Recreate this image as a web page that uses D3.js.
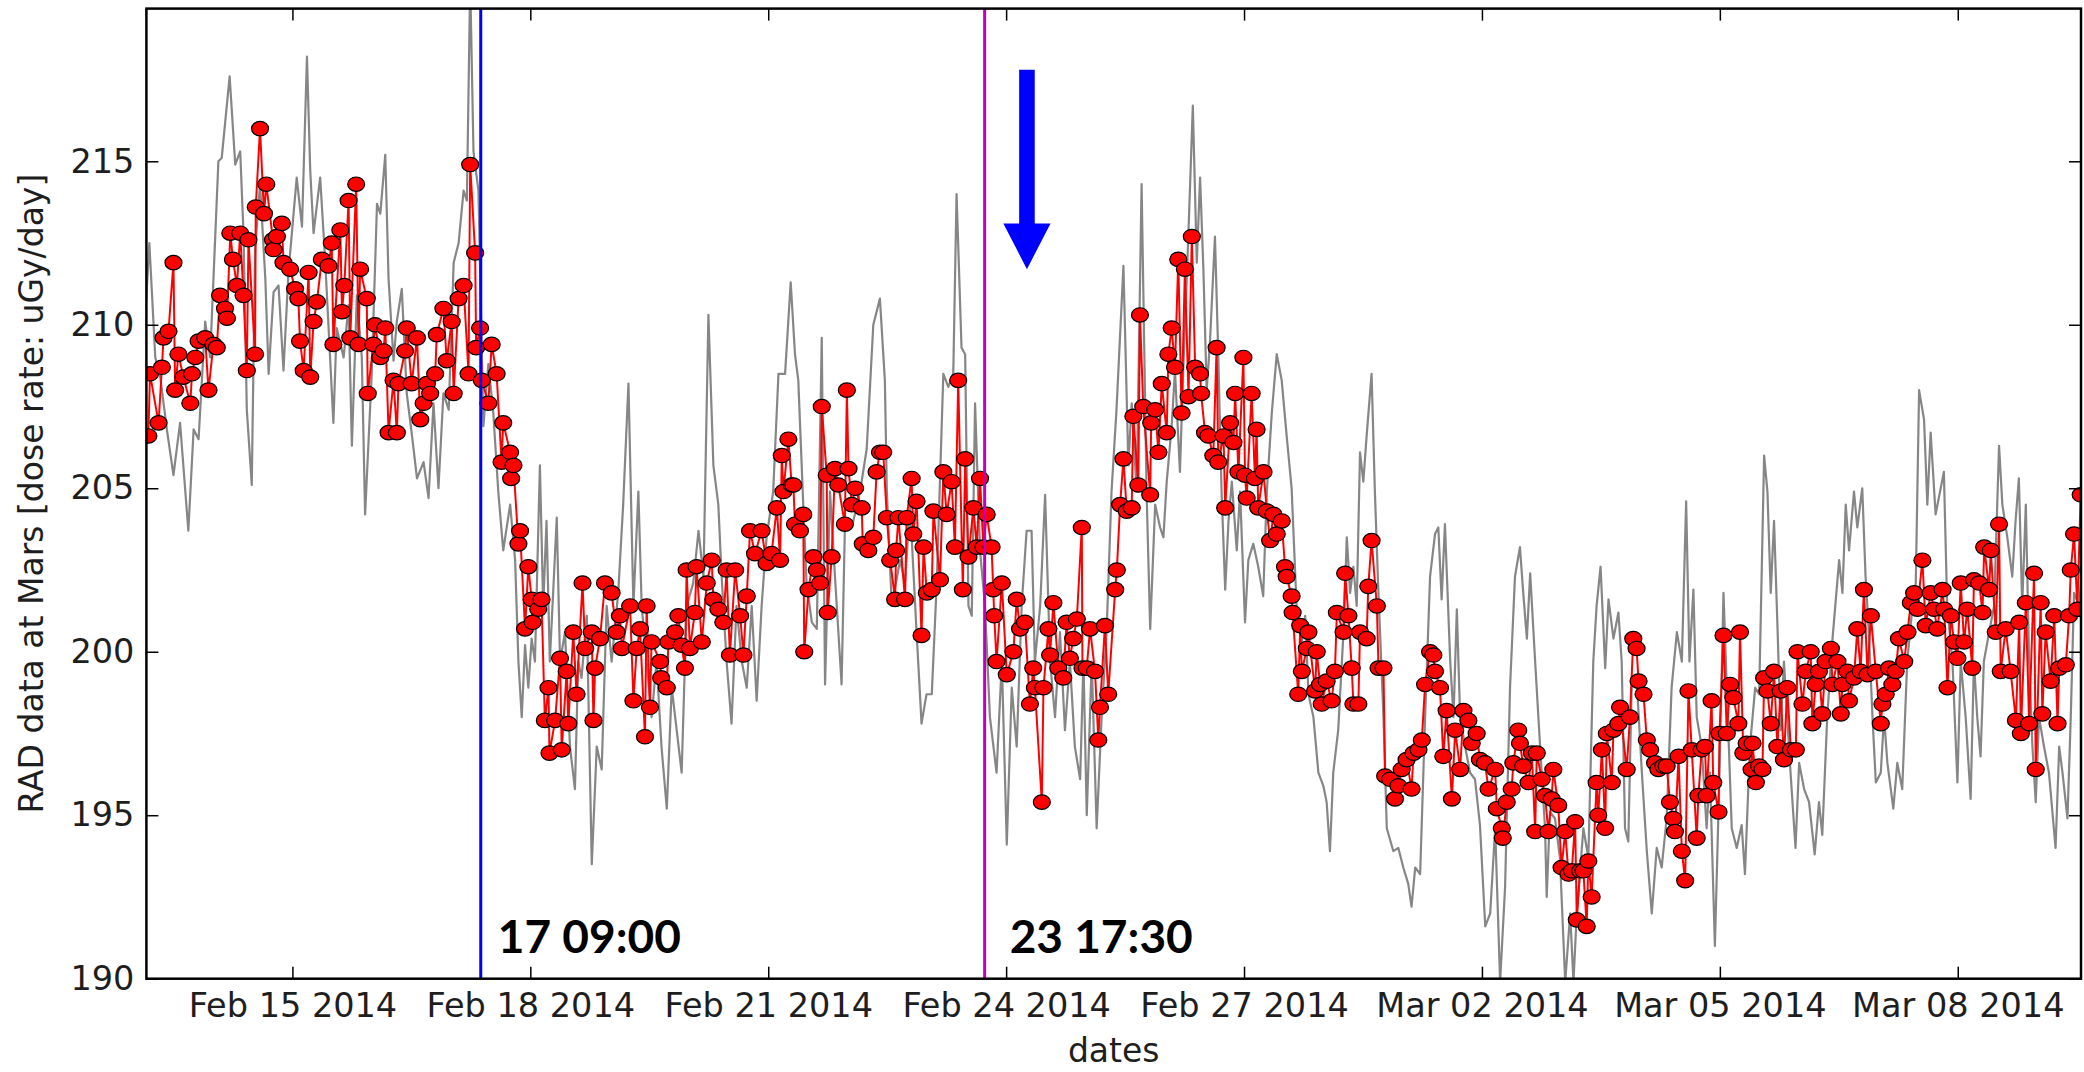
<!DOCTYPE html>
<html>
<head>
<meta charset="utf-8">
<script src="https://cdn.jsdelivr.net/npm/d3@7"></script>
<style>
  body { margin: 0; background: #fff; }
  svg text { font-family: "DejaVu Sans", sans-serif; }
</style>
</head>
<body>
<div id="rad-chart"></div>
<script>
const DIV_CONTAINER_ID = "#rad-chart";
const WIDTH = 2084;
const HEIGHT = 1072;
const PLOT = { left: 146.4, right: 2081, top: 8.6, bottom: 978.7 };

// hours counted from 2014-02-13 00:00 UTC
const START_HOUR = 3.81;
const END_HOUR = 589.3;
const tickDays = ["2014-02-15", "2014-02-18", "2014-02-21", "2014-02-24",
  "2014-02-27", "2014-03-02", "2014-03-05", "2014-03-08"];
const yTicks = [190, 195, 200, 205, 210, 215];
const yDomain = [190, 219.67];

const eventHours = [105, 257.5];          // 17 09:00 and 23 17:30
const eventLabels = ["17 09:00", "23 17:30"];
const arrowHour = 270.3;
const arrowValues = [217.8, 213.1, 211.7]; // tail, head base, tip

// grey series: [hour, dose rate]
const grayPoints = [
  [3.6,210.5],[4.7,212.5],[6.5,209.0],[8.0,208.4],[10.0,206.8],[12.0,205.4],[14.0,207.0],[16.5,203.7],[18.1,206.8],[19.6,206.5],
  [21.6,210.1],[23.1,209.0],[25.6,215.0],[26.6,215.1],[29.0,217.6],[30.7,214.9],[32.2,215.3],[33.2,212.8],[34.2,207.4],[35.7,205.1],
  [36.7,212.3],[38.2,214.3],[39.8,211.4],[40.8,208.5],[42.3,211.0],[43.8,211.2],[45.3,208.6],[46.8,211.6],[49.3,214.5],[50.9,213.0],
  [52.4,218.2],[53.4,214.7],[54.4,212.8],[56.4,214.5],[57.9,212.0],[59.4,209.0],[60.4,207.0],[61.4,209.9],[63.5,209.0],[65.0,210.6],
  [66.0,206.3],[67.5,210.9],[69.0,209.0],[70.0,204.2],[72.0,208.5],[73.6,213.7],[74.6,213.4],[76.1,215.2],[77.1,211.4],[78.6,208.9],
  [79.6,210.1],[81.1,211.1],[82.6,207.9],[84.2,206.6],[85.7,205.3],[87.7,205.8],[89.2,204.7],[90.7,207.6],[92.2,205.0],[93.7,207.9],
  [95.3,207.4],[96.8,211.9],[98.3,212.5],[99.8,214.1],[100.8,213.8],[101.8,220.5],[102.8,215.3],[104.3,214.1],[105.8,206.9],[107.3,208.8],
  [108.8,207.3],[110.3,204.9],[111.8,203.1],[113.9,204.5],[115.4,202.8],[116.4,199.7],[117.4,198.0],[118.4,200.2],[119.4,198.9],[120.4,200.4],
  [121.4,199.7],[122.9,205.7],[123.9,201.4],[124.9,204.0],[125.9,199.7],[128.0,204.1],[129.0,199.7],[130.5,200.6],[132.0,197.1],[133.5,195.8],
  [134.5,199.7],[135.5,199.2],[137.1,201.1],[138.6,193.5],[140.1,197.1],[141.6,196.4],[143.1,201.4],[144.6,199.7],[146.6,201.8],[148.1,204.5],
  [149.7,208.2],[151.2,201.4],[152.7,204.9],[153.7,201.4],[155.2,199.7],[156.7,198.0],[158.2,199.7],[159.7,197.1],[161.3,195.2],[162.8,198.9],
  [164.3,197.6],[165.8,196.3],[167.3,201.4],[169.3,202.1],[170.9,203.7],[172.4,202.3],[173.9,210.3],[175.4,205.7],[176.9,204.5],[177.9,202.3],
  [179.4,199.7],[180.9,197.8],[182.4,201.4],[184.0,199.7],[185.5,198.9],[187.0,201.4],[188.5,198.5],[190.0,201.4],[191.5,203.5],[193.5,204.9],
  [195.1,208.5],[197.1,208.5],[198.8,211.3],[200.1,209.1],[201.1,208.3],[202.6,204.5],[203.6,202.1],[205.2,200.9],[206.7,200.7],[208.2,209.6],
  [209.2,199.0],[210.7,204.9],[212.2,202.3],[214.2,199.0],[215.2,203.8],[217.3,203.8],[219.8,204.9],[221.8,206.2],[223.8,210.0],[225.8,210.8],
  [227.3,208.3],[227.9,204.9],[229.4,201.4],[231.9,202.8],[233.4,202.1],[234.9,204.5],[236.9,200.6],[238.4,197.8],[239.9,198.7],[241.5,198.7],
  [243.0,202.1],[245.0,208.5],[246.5,208.1],[248.0,208.5],[249.0,214.0],[250.5,209.3],[251.6,209.1],[252.6,201.4],[253.6,201.1],[254.6,207.6],
  [256.1,203.1],[257.6,201.4],[259.1,198.0],[261.1,196.3],[262.7,199.7],[264.2,194.1],[265.7,198.9],[267.2,197.1],[268.7,201.4],[270.2,203.7],
  [271.7,203.7],[272.7,199.7],[274.3,201.4],[275.8,204.8],[277.3,199.7],[278.8,198.0],[280.3,200.6],[281.8,197.6],[283.3,199.7],[284.8,197.1],
  [286.4,196.1],[287.4,199.7],[288.4,195.0],[289.9,199.7],[291.4,194.6],[292.9,198.0],[294.4,200.6],[295.9,204.9],[297.4,207.4],[299.5,211.8],
  [301.0,205.7],[302.0,207.6],[303.5,204.9],[305.0,214.3],[306.5,204.9],[307.6,200.7],[309.1,204.5],[310.6,203.8],[311.6,203.5],[312.6,205.2],
  [314.1,206.9],[315.1,208.6],[316.6,205.5],[317.6,208.6],[319.1,212.6],[320.5,216.7],[321.7,211.9],[322.7,214.5],[323.7,211.7],[324.7,208.0],
  [325.7,209.5],[327.2,212.7],[328.2,209.1],[329.2,204.9],[330.3,201.9],[331.3,204.0],[332.3,205.2],[333.8,203.1],[334.8,204.9],[336.3,200.9],
  [337.3,202.8],[338.8,203.3],[340.3,202.6],[341.8,201.7],[342.9,204.9],[344.4,207.3],[345.9,209.1],[347.4,208.3],[348.9,206.6],[350.4,205.0],
  [351.9,201.4],[353.4,200.2],[354.5,201.1],[355.5,198.7],[357.0,198.0],[358.5,196.3],[360.0,195.9],[361.0,195.4],[362.0,193.9],[363.0,196.3],
  [364.5,197.6],[366.1,200.6],[367.1,203.5],[368.1,201.8],[369.1,202.6],[370.1,201.4],[371.1,206.1],[372.1,205.2],[373.1,206.6],[374.6,208.5],
  [375.6,204.9],[376.6,202.0],[378.2,198.0],[379.2,194.6],[381.2,193.9],[382.7,194.0],[384.2,193.4],[385.7,192.9],[386.7,192.2],[387.8,193.4],
  [389.3,193.2],[390.8,198.0],[392.3,202.3],[393.8,203.6],[394.8,203.8],[395.8,201.6],[396.8,203.9],[398.4,199.7],[399.4,198.0],[400.4,201.3],
  [401.4,198.0],[402.9,197.1],[404.4,196.3],[405.9,196.1],[407.4,194.7],[409.0,191.6],[410.5,192.0],[412.0,194.6],[413.5,189.9],[415.0,192.8],
  [416.5,198.9],[418.0,202.3],[419.5,203.2],[420.5,201.8],[421.6,200.4],[422.6,202.4],[424.1,199.7],[425.6,197.1],[427.1,194.6],[427.6,192.5],
  [428.6,195.1],[430.1,194.9],[431.6,193.7],[433.2,189.9],[434.7,192.0],[435.7,189.9],[436.7,192.0],[438.7,194.6],[440.2,193.7],[441.7,199.7],
  [442.7,201.4],[443.9,202.6],[445.3,199.5],[446.3,201.6],[447.8,200.4],[449.3,201.2],[450.3,199.7],[451.3,194.6],[452.3,194.2],[453.3,198.9],
  [454.8,199.2],[456.4,196.3],[457.9,193.9],[459.4,192.0],[460.9,194.0],[462.4,193.4],[463.9,194.9],[465.4,198.9],[467.0,200.6],[468.5,199.7],
  [469.8,204.6],[470.8,199.7],[472.0,201.9],[473.0,198.0],[474.5,197.1],[476.0,194.6],[477.0,196.3],[478.5,191.0],[479.9,196.3],[481.1,201.8],
  [482.1,198.9],[483.6,194.6],[485.1,194.0],[486.6,194.7],[487.6,193.2],[489.1,197.1],[490.7,198.9],[491.9,198.7],[493.4,206.0],[494.4,204.9],
  [495.4,201.8],[496.4,204.0],[497.4,200.9],[498.4,197.6],[499.4,199.7],[500.4,198.0],[501.4,196.3],[502.9,194.0],[504.0,196.6],[505.5,195.8],
  [507.0,195.4],[508.7,193.8],[510.0,195.4],[511.0,194.4],[512.5,198.0],[514.1,200.4],[516.1,202.8],[517.1,201.8],[518.1,204.5],[519.1,203.1],
  [520.6,204.9],[521.6,203.8],[523.1,205.0],[524.1,202.3],[525.1,200.6],[526.2,198.0],[527.2,196.0],[528.7,196.3],[529.7,198.0],[530.7,196.6],
  [532.5,195.2],[533.7,196.6],[535.2,195.8],[536.7,199.7],[538.3,201.4],[539.3,202.1],[540.3,208.0],[541.8,207.1],[542.8,204.5],[543.8,206.7],
  [545.3,204.2],[547.8,205.5],[548.8,201.4],[550.4,199.7],[551.9,196.0],[552.9,199.7],[554.4,198.0],[555.9,195.5],[556.9,199.7],[557.9,198.0],
  [558.9,196.8],[559.9,199.7],[561.5,200.6],[563.0,201.4],[564.5,206.3],[565.5,204.5],[567.0,203.5],[568.5,202.3],[569.5,204.0],[570.5,205.3],
  [571.5,201.4],[572.6,204.5],[573.6,199.7],[574.6,197.1],[575.6,195.4],[576.6,198.0],[578.1,197.1],[579.6,196.3],[581.6,194.0],[582.7,197.1],
  [583.7,196.3],[585.2,194.9],[586.2,198.0],[587.2,201.8],[588.7,201.4],[589.7,202.6]
];

// red series with markers: [hour, dose rate]
const redPoints = [
  [4.4,206.6],[4.9,208.5],[7.5,207.0],[8.5,208.7],[9.0,209.6],[10.5,209.8],[12.0,211.9],[12.5,208.0],[13.5,209.1],[15.0,208.4],
  [17.1,207.6],[17.6,208.5],[18.6,209.0],[19.6,209.5],[21.6,209.6],[22.6,208.0],[24.1,209.4],[25.1,209.3],[26.1,210.9],[27.6,210.5],
  [28.2,210.2],[29.2,212.8],[30.0,212.0],[31.2,211.2],[32.2,212.8],[33.2,210.9],[34.2,208.6],[34.7,212.6],[36.7,209.1],[36.9,213.6],
  [38.2,216.0],[39.4,213.4],[40.1,214.3],[42.1,212.6],[42.3,212.3],[43.3,212.7],[44.8,213.1],[45.3,211.9],[47.3,211.7],[48.8,211.1],
  [49.8,210.8],[50.3,209.5],[51.4,208.6],[52.9,211.6],[53.4,208.4],[54.4,210.1],[55.4,210.7],[56.9,212.0],[58.9,211.8],[59.9,212.5],
  [60.4,209.4],[62.5,212.9],[63.0,210.4],[63.7,211.2],[65.0,213.8],[65.5,209.6],[67.3,214.3],[68.0,209.4],[68.5,211.7],[70.5,210.8],
  [70.8,207.9],[72.5,209.4],[73.0,210.0],[74.6,209.0],[75.6,209.2],[76.1,209.9],[77.1,206.7],[78.6,208.3],[79.6,206.7],[80.1,208.2],
  [82.1,209.2],[82.6,209.9],[84.1,208.2],[85.7,209.6],[86.7,207.1],[87.7,207.6],[88.7,208.2],[89.7,207.9],[91.2,208.5],[91.7,209.7],
  [93.7,210.5],[94.7,208.9],[96.2,210.1],[96.8,207.9],[98.3,210.8],[99.8,211.2],[101.3,208.5],[101.8,214.9],
  [103.3,212.2],[103.6,209.3],[104.8,209.9],[105.3,208.3],[107.3,207.6],[108.3,209.4],[109.8,208.5],[111.3,205.8],[111.8,207.0],[113.9,206.1],
  [114.2,205.3],[114.9,205.7],[116.4,203.3],[116.9,203.7],[118.4,200.7],[119.4,202.6],[120.4,201.6],[120.7,200.9],[122.4,201.3],[123.4,201.6],
  [124.4,197.9],[125.5,198.9],[125.8,196.9],[127.5,197.9],[129.0,199.8],[129.5,197.0],[131.0,199.4],[131.5,197.8],[133.0,200.6],[134.0,198.7],
  [135.8,202.1],[136.6,200.1],[138.6,200.6],[139.1,197.9],[139.6,199.5],[141.1,200.4],[142.6,202.1],[144.6,201.8],[146.1,200.6],[147.1,201.1],
  [147.7,200.1],[150.2,201.4],[151.2,198.5],[152.2,200.1],[153.2,200.7],[154.7,197.4],[155.2,201.4],[156.2,198.3],[156.7,200.3],[159.3,199.7],
  [159.6,199.2],[161.3,198.9],[161.8,200.3],[163.8,200.6],[164.8,201.1],[165.8,200.2],[166.8,199.5],[167.3,202.5],[168.3,200.1],[169.8,201.2],
  [170.3,202.6],[171.9,200.3],[173.4,202.1],[174.9,202.8],[175.4,201.6],[176.9,201.3],[178.4,200.9],[179.4,202.5],[180.4,199.9],[182.0,202.5],
  [183.5,201.1],[184.5,199.9],[185.5,201.7],[186.5,203.7],[188.0,203.0],[190.0,203.7],[191.5,202.7],[193.0,203.0],[194.6,204.4],[195.6,202.8],
  [196.1,206.0],[196.6,204.9],[198.1,206.5],[199.1,205.1],
  [199.6,205.1],[200.1,203.9],[201.6,203.7],[202.6,204.2],[202.9,200.0],[204.2,201.9],[205.7,202.9],[206.7,202.5],[207.7,202.1],[208.2,207.5],
  [209.7,205.4],[210.0,201.2],[211.2,202.9],[212.2,205.6],[213.2,205.1],[215.2,203.9],[215.8,208.0],[216.3,205.6],[217.3,204.5],[218.3,205.0],
  [220.3,204.4],[220.6,203.3],[222.3,203.1],[223.8,203.5],[224.8,205.5],[225.8,206.1],[226.8,206.1],[227.9,204.1],[228.9,202.8],[230.4,201.6],
  [230.7,203.1],[231.4,204.1],[233.4,201.6],[233.9,204.1],[235.4,205.3],[235.9,203.6],[236.9,204.6],[238.4,200.5],[239.0,203.2],[240.0,201.8],
  [241.5,201.9],[242.0,204.3],[244.0,202.2],[245.0,205.5],[246.0,204.2],[247.5,205.2],[248.5,203.2],[249.5,208.3],[250.9,201.9],[251.6,205.9],
  [252.6,202.9],[254.1,204.4],[255.1,203.2],[256.1,205.3],[257.1,203.2],[258.1,204.2],[259.6,203.2],[260.1,201.9],[260.4,201.1],[261.1,199.7],
  [262.7,202.1],[264.2,199.3],[266.2,200.0],[267.2,201.6],[268.2,200.7],[269.7,200.9],[271.2,198.4],[272.2,199.5],[272.7,198.9],[274.8,195.4],
  [275.3,198.9],[276.8,200.7],[277.3,199.9],[278.3,201.5],[279.8,199.5],[281.3,199.2],[282.3,200.9],[283.3,199.8],[284.3,200.4],[285.4,201.0],
  [286.9,203.8],[287.1,199.5],[288.4,199.5],[289.4,200.7],[290.9,199.4],[291.9,197.3],[292.4,198.3],[293.9,200.8],[294.9,198.7],
  [297.0,201.9],[297.5,202.5],[298.5,204.5],[299.5,205.9],[300.5,204.3],[302.0,204.4],[302.5,207.2],[304.0,205.1],[304.5,210.3],[305.5,207.5],
  [307.6,204.8],[307.9,207.0],[309.1,207.4],[310.1,206.1],[311.1,208.2],[312.6,206.7],[313.1,209.1],[314.1,209.9],[315.1,208.7],[316.1,212.0],
  [317.1,207.3],[318.1,211.7],[319.2,207.8],[320.2,212.7],[321.2,208.7],[322.7,208.5],[323.0,207.9],[324.2,206.7],[325.2,206.6],[326.7,206.0],
  [327.7,209.3],[328.2,205.8],[329.8,206.6],[330.3,204.4],[331.8,207.0],[332.8,206.4],[333.3,207.9],[334.3,205.5],[335.8,209.0],[336.3,205.4],
  [336.8,204.7],[338.3,207.9],[339.3,205.3],[339.8,206.8],[340.3,204.4],[341.9,205.5],[342.9,204.3],[343.9,203.4],[344.9,204.2],[345.9,203.6],
  [347.4,204.0],[348.4,202.6],[348.9,202.3],[350.4,201.7],[350.7,201.2],[352.4,198.7],[353.0,200.8],[353.5,199.4],[355.0,200.1],[355.5,200.6],
  [357.5,198.8],[358.0,200.0],[359.0,199.0],[359.5,198.4],[361.0,199.1],[362.5,198.5],[363.5,199.4],[364.1,201.2],[366.1,200.6],[366.6,202.4],
  [367.6,201.1],[368.6,199.5],[369.1,198.4],[370.6,198.4],[371.1,200.6],[373.1,200.4],[373.6,202.0],[374.6,203.4],[376.2,201.4],[376.7,199.5],
  [378.2,199.5],[378.7,196.2],[380.2,196.1],[381.7,195.5],[382.7,195.9],[383.7,196.4],[385.2,196.7],[386.7,195.8],[387.3,196.9],[388.8,197.0],
  [389.8,197.3],[390.8,199.0],[392.3,200.0],
  [393.3,199.9],[393.8,199.4],[395.3,198.9],[396.3,196.8],[397.3,198.2],[398.9,195.5],[399.9,197.6],[401.4,196.4],[402.4,198.2],[403.9,197.9],
  [404.9,197.2],[406.4,197.5],[407.4,196.7],[408.9,196.6],[410.0,195.8],[412.0,196.4],[412.5,195.2],[414.0,194.6],[414.3,194.3],[415.5,195.4],
  [417.0,195.8],[417.5,196.6],[419.0,197.6],[419.5,197.2],[420.5,196.5],[422.1,196.0],[423.1,196.9],[424.1,194.5],[424.6,196.9],[426.1,196.1],
  [427.1,195.6],[428.1,194.5],[429.1,195.5],[429.6,196.4],[431.1,195.3],[432.1,193.4],[433.2,194.5],[434.2,193.2],[435.2,193.3],[436.2,194.8],
  [436.7,191.8],[437.7,193.3],[438.7,193.3],[439.7,191.6],[440.2,193.6],[441.2,192.5],[442.7,196.0],[443.2,195.0],[444.3,197.0],[445.3,194.6],
  [445.8,197.5],[447.3,196.0],[447.8,197.6],[449.3,197.8],[449.8,198.3],[451.8,196.4],[452.8,198.0],[453.8,200.4],[454.8,200.1],[455.4,199.1],
  [456.9,198.7],[457.9,197.3],[458.9,197.0],[460.4,196.6],[461.4,196.4],[462.9,196.5],[463.9,196.5],[464.9,195.4],[465.9,194.9],[466.4,194.5],
  [467.5,196.8],[468.5,193.9],[469.5,193.0],[470.5,198.8],[471.5,197.0],[473.0,194.3],[473.5,195.6],[474.5,197.0],[475.5,197.1],[476.0,195.6],
  [477.5,198.5],[478.0,196.0],[479.6,195.1],[479.9,197.5],[481.1,200.5],[482.1,197.5],[483.1,199.0],[484.1,198.6],[485.6,197.8],[486.1,200.6],
  [487.1,196.9],[488.1,197.2],[489.6,196.4],
  [489.9,197.2],[490.9,196.0],[491.9,196.5],[492.9,196.4],[493.4,199.2],[494.4,198.8],[495.4,197.8],[496.4,199.4],[497.4,197.1],[498.4,198.8],
  [499.4,196.7],[500.4,198.9],[501.5,197.0],[503.0,197.0],[503.5,200.0],[505.0,198.4],[506.0,199.4],[507.5,200.0],[508.0,197.8],[509.0,199.0],
  [510.0,199.4],[511.0,198.1],[512.0,199.7],[513.6,200.1],[514.1,199.0],[515.6,199.7],[516.6,198.1],[517.1,199.0],[518.6,199.4],[519.1,198.5],
  [520.6,199.2],[521.6,200.7],[522.6,199.4],[523.6,201.9],[524.7,199.3],[525.7,201.1],[527.2,199.4],[528.7,197.8],[529.2,198.4],[530.2,198.7],
  [531.2,199.5],[532.2,199.0],[533.2,199.4],[534.2,200.4],[535.8,199.7],[536.8,200.6],[537.8,201.5],[538.8,201.8],[539.8,201.3],[541.3,202.8],
  [542.3,200.8],[543.8,201.8],[544.8,201.3],[545.8,200.7],[547.4,201.9],[547.9,201.3],[548.9,198.9],[549.9,201.1],[550.9,200.3],[551.9,199.8],
  [552.9,202.1],[553.9,200.3],[554.9,201.3],[556.4,199.5],[556.9,202.2],[558.5,202.1],[559.5,201.2],[560.0,203.2],[561.5,201.9],[562.0,203.1],
  [563.5,200.6],[564.5,203.9],[565.0,199.4],[566.5,200.7],[568.0,199.4],[569.6,197.9],[570.6,200.9],[571.1,197.5],[572.6,201.5],[573.6,197.8],
  [575.1,202.4],[575.6,196.4],[577.1,201.5],[577.6,198.1],[578.6,200.6],[580.1,199.1],[581.2,201.1],[582.2,197.8],[582.7,199.5],[584.7,199.6],
  [585.7,201.1],[586.2,202.5],[587.2,203.6],[588.2,201.3],[589.2,204.8]
];

const T0 = Date.UTC(2014, 1, 13);
const toDate = h => new Date(T0 + h * 3600e3);
const parseDay = d3.utcParse("%Y-%m-%d");
const formatTick = d3.utcFormat("%b %d %Y");

const svg = d3.select(DIV_CONTAINER_ID)
  .append("svg")
  .attr("width", WIDTH)
  .attr("height", HEIGHT)
  .style("background", "#fff");

const xScale = d3.scaleUtc()
  .domain([toDate(START_HOUR), toDate(END_HOUR)])
  .range([PLOT.left, PLOT.right]);
const yScale = d3.scaleLinear()
  .domain(yDomain)
  .range([PLOT.bottom, PLOT.top]);

const tickDates = tickDays.map(parseDay);

svg.append("clipPath").attr("id", "plot-clip")
  .append("rect")
  .attr("x", PLOT.left).attr("y", PLOT.top)
  .attr("width", PLOT.right - PLOT.left).attr("height", PLOT.bottom - PLOT.top);

const plot = svg.append("g").attr("clip-path", "url(#plot-clip)");

const line = d3.line()
  .x(d => xScale(toDate(d[0])))
  .y(d => yScale(d[1]));

// grey series
plot.append("path")
  .datum(grayPoints)
  .attr("d", line)
  .attr("fill", "none")
  .attr("stroke", "#868686")
  .attr("stroke-width", 2.2)
  .attr("stroke-linejoin", "round");

// red series, line then markers
plot.append("path")
  .datum(redPoints)
  .attr("d", line)
  .attr("fill", "none")
  .attr("stroke", "#ff0000")
  .attr("stroke-width", 2);

plot.append("g")
  .selectAll("ellipse")
  .data(redPoints)
  .enter()
  .append("ellipse")
  .attr("cx", d => xScale(toDate(d[0])))
  .attr("cy", d => yScale(d[1]))
  .attr("rx", 8.5)
  .attr("ry", 7.2)
  .attr("fill", "#ff0000")
  .attr("stroke", "#000")
  .attr("stroke-width", 1.2);

// event lines
const EVENT_COLORS = ["#0000ff", "#bf00bf"];
const LABEL_SHIFT = [17, 25];
svg.append("g")
  .selectAll("line")
  .data(eventHours)
  .enter()
  .append("line")
  .attr("x1", d => xScale(toDate(d)))
  .attr("x2", d => xScale(toDate(d)))
  .attr("y1", PLOT.top)
  .attr("y2", PLOT.bottom)
  .attr("stroke", (d, i) => EVENT_COLORS[i])
  .attr("stroke-width", 3);

svg.append("g")
  .selectAll("text")
  .data(eventHours)
  .enter()
  .append("text")
  .attr("x", (d, i) => xScale(toDate(d)) + LABEL_SHIFT[i])
  .attr("y", PLOT.bottom - 26)
  .style("font-family", "Lato, 'Liberation Sans', sans-serif")
  .style("font-weight", "bold")
  .style("font-size", "46px")
  .attr("fill", "#000")
  .text((d, i) => eventLabels[i]);

// blue arrow
const ax = xScale(toDate(arrowHour));
const [aTop, aBase, aTip] = arrowValues.map(yScale);
svg.append("path")
  .attr("d", `M${ax - 7.8},${aTop} L${ax + 7.8},${aTop} L${ax + 7.8},${aBase} L${ax + 23.6},${aBase}
    L${ax},${aTip} L${ax - 23.6},${aBase} L${ax - 7.8},${aBase} Z`)
  .attr("fill", "#0000ff");

// axes: ticks point inward on all four sides
const TICK = -12;
const styleAxis = g => {
  g.select(".domain").remove();
  g.selectAll(".tick line").attr("stroke", "#000").attr("stroke-width", 1.5);
  g.selectAll(".tick text")
    .style("font-family", "'DejaVu Sans', sans-serif")
    .style("font-size", "33.5px")
    .attr("fill", "#1e1e1e");
};

svg.append("g")
  .attr("transform", `translate(0, ${PLOT.bottom})`)
  .call(d3.axisBottom(xScale).tickValues(tickDates).tickFormat(formatTick)
    .tickSizeInner(TICK).tickSizeOuter(0).tickPadding(15))
  .call(styleAxis);

svg.append("g")
  .attr("transform", `translate(0, ${PLOT.top})`)
  .call(d3.axisTop(xScale).tickValues(tickDates).tickFormat("")
    .tickSizeInner(TICK).tickSizeOuter(0))
  .call(styleAxis);

svg.append("g")
  .attr("transform", `translate(${PLOT.left}, 0)`)
  .call(d3.axisLeft(yScale).tickValues(yTicks)
    .tickSizeInner(TICK).tickSizeOuter(0).tickPadding(12))
  .call(styleAxis);

svg.append("g")
  .attr("transform", `translate(${PLOT.right}, 0)`)
  .call(d3.axisRight(yScale).tickValues(yTicks).tickFormat("")
    .tickSizeInner(TICK).tickSizeOuter(0))
  .call(styleAxis);

svg.append("rect")
  .attr("x", PLOT.left).attr("y", PLOT.top)
  .attr("width", PLOT.right - PLOT.left).attr("height", PLOT.bottom - PLOT.top)
  .attr("fill", "none")
  .attr("stroke", "#000")
  .attr("stroke-width", 2.5);

// axis titles
svg.append("text")
  .attr("x", (PLOT.left + PLOT.right) / 2)
  .attr("y", 1062)
  .style("font-size", "33px")
  .style("text-anchor", "middle")
  .attr("fill", "#1e1e1e")
  .text("dates");

svg.append("text")
  .attr("transform", `translate(43, ${(PLOT.top + PLOT.bottom) / 2}) rotate(-90)`)
  .style("font-size", "33px")
  .style("text-anchor", "middle")
  .attr("fill", "#1e1e1e")
  .text("RAD data at Mars [dose rate: uGy/day]");
</script>
</body>
</html>
